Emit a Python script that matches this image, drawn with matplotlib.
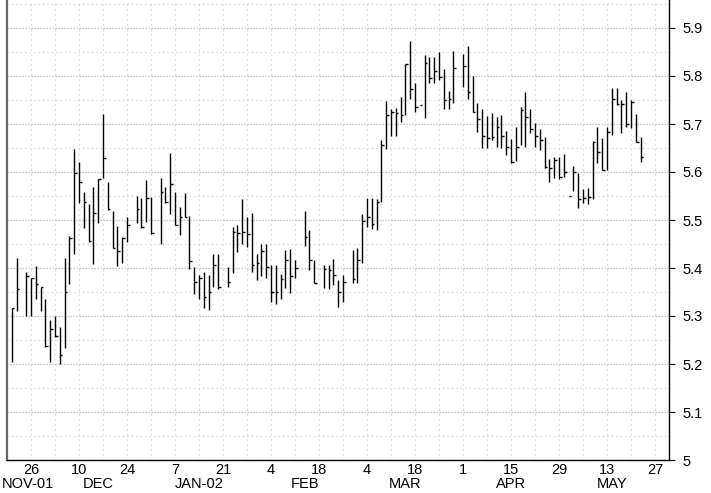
import numpy as np
import matplotlib.pyplot as plt
from matplotlib.ticker import MultipleLocator, FuncFormatter

plt.rcParams['font.family'] = ['Liberation Sans Narrow', 'Liberation Sans', 'DejaVu Sans']

# daily high / low / close
dates = ['2001-11-20', '2001-11-21', '2001-11-23', '2001-11-26', '2001-11-27', '2001-11-28',
         '2001-11-29', '2001-11-30', '2001-12-03', '2001-12-04', '2001-12-05', '2001-12-06',
         '2001-12-07', '2001-12-10', '2001-12-11', '2001-12-12', '2001-12-13', '2001-12-14',
         '2001-12-17', '2001-12-18', '2001-12-19', '2001-12-20', '2001-12-21', '2001-12-24',
         '2001-12-26', '2001-12-27', '2001-12-28', '2001-12-31', '2002-01-02', '2002-01-03',
         '2002-01-04', '2002-01-07', '2002-01-08', '2002-01-09', '2002-01-10', '2002-01-11',
         '2002-01-14', '2002-01-15', '2002-01-16', '2002-01-17', '2002-01-18', '2002-01-22',
         '2002-01-23', '2002-01-24', '2002-01-25', '2002-01-28', '2002-01-29', '2002-01-30',
         '2002-01-31', '2002-02-01', '2002-02-04', '2002-02-05', '2002-02-06', '2002-02-07',
         '2002-02-08', '2002-02-11', '2002-02-13', '2002-02-14', '2002-02-15', '2002-02-19',
         '2002-02-20', '2002-02-21', '2002-02-22', '2002-02-25', '2002-02-27', '2002-02-28',
         '2002-03-01', '2002-03-04', '2002-03-05', '2002-03-06', '2002-03-07', '2002-03-08',
         '2002-03-11', '2002-03-12', '2002-03-13', '2002-03-14', '2002-03-15', '2002-03-18',
         '2002-03-19', '2002-03-20', '2002-03-21', '2002-03-22', '2002-03-25', '2002-03-26',
         '2002-03-27', '2002-03-28', '2002-04-01', '2002-04-02', '2002-04-03', '2002-04-04',
         '2002-04-05', '2002-04-08', '2002-04-09', '2002-04-10', '2002-04-11', '2002-04-12',
         '2002-04-15', '2002-04-16', '2002-04-17', '2002-04-18', '2002-04-19', '2002-04-22',
         '2002-04-23', '2002-04-24', '2002-04-25', '2002-04-26', '2002-04-29', '2002-04-30',
         '2002-05-01', '2002-05-02', '2002-05-03', '2002-05-06', '2002-05-07', '2002-05-08',
         '2002-05-09', '2002-05-10', '2002-05-13', '2002-05-14', '2002-05-15', '2002-05-16',
         '2002-05-17', '2002-05-20', '2002-05-21', '2002-05-22']

high = [5.317, 5.420, 5.391, 5.380, 5.405, 5.361, 5.335, 5.292, 5.300, 5.278, 5.421, 5.467,
        5.648, 5.621, 5.558, 5.534, 5.568, 5.585, 5.721, 5.580, 5.519, 5.487, 5.464, 5.506,
        5.550, 5.545, 5.583, 5.547, 5.587, 5.569, 5.639, 5.558, 5.528, 5.556, 5.508, 5.403,
        5.385, 5.392, 5.385, 5.429, 5.429, 5.403, 5.486, 5.490, 5.544, 5.507, 5.514, 5.429,
        5.451, 5.451, 5.406, 5.406, 5.388, 5.438, 5.440, 5.417, 5.518, 5.479, 5.417, 5.406,
        5.406, 5.418, 5.375, 5.385, 5.437, 5.441, 5.512, 5.546, 5.545, 5.544, 5.667, 5.748,
        5.731, 5.733, 5.757, 5.826, 5.873, 5.786, 5.740, 5.844, 5.839, 5.840, 5.849, 5.814,
        5.769, 5.852, 5.846, 5.862, 5.800, 5.744, 5.731, 5.717, 5.722, 5.714, 5.719, 5.686,
        5.668, 5.694, 5.735, 5.766, 5.731, 5.703, 5.690, 5.672, 5.627, 5.632, 5.631, 5.637,
        5.551, 5.612, 5.597, 5.565, 5.566, 5.665, 5.693, 5.670, 5.694, 5.774, 5.774, 5.750,
        5.767, 5.750, 5.720, 5.672]

low = [5.205, 5.310, 5.301, 5.300, 5.335, 5.311, 5.236, 5.205, 5.257, 5.199, 5.233, 5.367,
       5.429, 5.535, 5.484, 5.454, 5.408, 5.493, 5.587, 5.521, 5.441, 5.404, 5.410, 5.454,
       5.493, 5.483, 5.495, 5.470, 5.450, 5.535, 5.512, 5.490, 5.469, 5.506, 5.397, 5.346,
       5.335, 5.316, 5.312, 5.361, 5.356, 5.361, 5.389, 5.434, 5.451, 5.444, 5.392, 5.376,
       5.383, 5.379, 5.329, 5.326, 5.336, 5.358, 5.348, 5.380, 5.445, 5.396, 5.368, 5.358,
       5.356, 5.365, 5.318, 5.330, 5.368, 5.368, 5.410, 5.485, 5.481, 5.479, 5.537, 5.648,
       5.675, 5.675, 5.705, 5.719, 5.752, 5.726, 5.740, 5.712, 5.786, 5.785, 5.792, 5.731,
       5.731, 5.744, 5.778, 5.753, 5.724, 5.684, 5.649, 5.649, 5.667, 5.653, 5.649, 5.635,
       5.618, 5.623, 5.656, 5.653, 5.681, 5.653, 5.646, 5.609, 5.580, 5.588, 5.585, 5.589,
       5.551, 5.560, 5.524, 5.535, 5.533, 5.544, 5.618, 5.605, 5.605, 5.678, 5.740, 5.682,
       5.694, 5.691, 5.663, 5.621]

close = [5.317, 5.356, 5.384, 5.380, 5.367, 5.360, 5.238, 5.273, 5.258, 5.219, 5.351, 5.462,
         5.597, 5.579, 5.538, 5.457, 5.515, 5.585, 5.630, 5.522, 5.441, 5.436, 5.462, 5.490,
         5.522, 5.485, 5.545, 5.472, 5.558, 5.538, 5.575, 5.490, 5.506, 5.506, 5.415, 5.370,
         5.380, 5.340, 5.351, 5.406, 5.361, 5.370, 5.474, 5.472, 5.474, 5.470, 5.406, 5.410,
         5.435, 5.402, 5.350, 5.350, 5.378, 5.416, 5.383, 5.401, 5.464, 5.417, 5.368, 5.397,
         5.396, 5.385, 5.349, 5.371, 5.378, 5.417, 5.497, 5.507, 5.491, 5.537, 5.656, 5.719,
         5.725, 5.722, 5.719, 5.824, 5.773, 5.735, 5.740, 5.828, 5.795, 5.810, 5.797, 5.751,
         5.752, 5.816, 5.821, 5.767, 5.724, 5.710, 5.675, 5.671, 5.672, 5.694, 5.675, 5.653,
         5.620, 5.653, 5.729, 5.714, 5.689, 5.675, 5.667, 5.610, 5.608, 5.625, 5.589, 5.599,
         5.551, 5.601, 5.543, 5.545, 5.547, 5.663, 5.642, 5.605, 5.684, 5.752, 5.742, 5.742,
         5.699, 5.745, 5.663, 5.631]

day_tick_dates = ['2001-11-26', '2001-12-10', '2001-12-24', '2002-01-07', '2002-01-21',
                  '2002-02-04', '2002-02-18', '2002-03-04', '2002-03-18', '2002-04-01',
                  '2002-04-15', '2002-04-29', '2002-05-13', '2002-05-27']
day_tick_labels = ['26', '10', '24', '7', '21', '4', '18', '4', '18', '1', '15', '29', '13', '27']
month_dates = ['2001-11-22', '2001-12-14', '2002-01-14', '2002-02-13', '2002-03-14',
               '2002-04-15', '2002-05-14']
month_labels = ['NOV-01', 'DEC', 'JAN-02', 'FEB', 'MAR', 'APR', 'MAY']

start = np.datetime64('2001-11-19')


def to_x(d):
    # position on a weekday axis
    return np.busday_count(start, np.array(d, dtype='datetime64[D]'))


x = to_x(dates)

fig = plt.figure(figsize=(7.11, 4.93), dpi=100)
ax = fig.add_axes([7 / 711, 33 / 493, 662 / 711, 460 / 493])
ax.set_xlim(0, 137.9)
ax.set_ylim(5.0, 5.0 + 460 / 480)

# grid
ax.yaxis.set_major_locator(MultipleLocator(0.1))
ax.yaxis.set_minor_locator(MultipleLocator(0.05))
ax.set_xticks(to_x(day_tick_dates))
ax.set_xticklabels(day_tick_labels)
ax.set_xticks(np.arange(0, 138, 5), minor=True)
ax.grid(True, which='major', axis='y', color='#b8b8b8', lw=0.9, ls=(0, (1, 1.4)))
ax.grid(True, which='minor', axis='y', color='#c8c8c8', lw=0.8, ls=(0, (1, 3)))
ax.grid(True, which='both', axis='x', color='#c8c8c8', lw=0.8, ls=(0, (1, 3.5)))
ax.set_axisbelow(True)

# HLC bars
ax.vlines(x, low, high, color='black', lw=1.0)
ax.hlines(close, x, x + 0.55, color='black', lw=1.0)

ax.yaxis.tick_right()
ax.yaxis.set_major_formatter(FuncFormatter(lambda v, p: '%g' % round(v, 2)))
ax.tick_params(axis='y', which='major', direction='out', length=4, width=0.8, pad=6,
               labelsize=10.5, colors='black')
ax.tick_params(axis='y', which='minor', length=0)
ax.tick_params(axis='x', which='both', length=0, pad=2, labelsize=10.5)

for i, (lab, d) in enumerate(zip(month_labels, month_dates)):
    if i == 0:
        # first label starts at the left edge
        ax.annotate(lab, xy=(0, 0), xycoords='axes fraction',
                    xytext=(-5, -17), textcoords='offset pixels',
                    ha='left', va='top', fontsize=10.5)
    else:
        ax.annotate(lab, xy=(to_x(d), 0), xycoords=('data', 'axes fraction'),
                    xytext=(0, -17), textcoords='offset pixels',
                    ha='center', va='top', fontsize=10.5)

ax.spines['top'].set_visible(False)
ax.spines['left'].set_color('#666666')
ax.spines['left'].set_linewidth(1.6)
ax.spines['right'].set_linewidth(1.0)
ax.spines['bottom'].set_linewidth(1.0)

fig.savefig('out.png', dpi=100)
